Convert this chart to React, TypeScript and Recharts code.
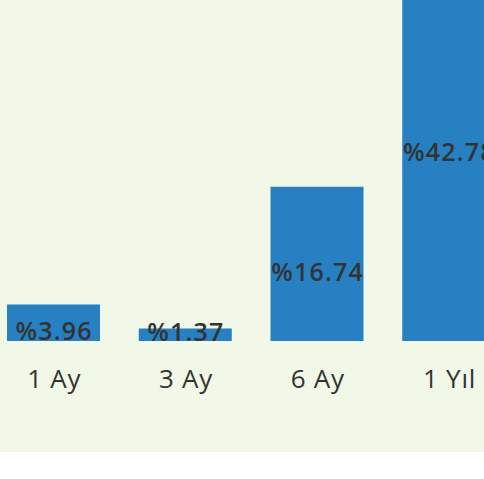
import React from "react";
import { BarChart, Bar, XAxis, YAxis, LabelList } from "recharts";

const categories = ["1 Ay", "3 Ay", "6 Ay", "1 Yıl"];
const returns = [3.96, 1.37, 16.74, 42.78];
const labels = ["%3.96", "%1.37", "%16.74", "%42.78"];

const data = categories.map((c, i) => ({ name: c, value: returns[i], label: labels[i] }));
const maxValue = Math.max(...returns);

const FONT = "'Open Sans', 'Noto Sans', sans-serif";

const BarLabel = (props: any) => {
  const { x, y, width, height, index } = props;
  const bottom = y + height;
  const cy = Math.min(y + height / 2 + 7, bottom - 10);
  return (
    <text
      x={x + width / 2 + 0.6}
      y={cy}
      textAnchor="middle"
      dominantBaseline="central"
      fill="#333333"
      fontFamily={FONT}
      fontWeight={600}
      fontSize={25}
      letterSpacing={1.2}
    >
      {labels[index]}
    </text>
  );
};

const AxisTick = (props: any) => {
  const { x, y, payload } = props;
  return (
    <text
      x={x + 0.4}
      y={y}
      textAnchor="middle"
      fill="#333333"
      fontFamily={FONT}
      fontSize={26}
      letterSpacing={0.8}
      dy={19}
    >
      {payload.value}
    </text>
  );
};

export default function App() {
  return (
    <div
      style={{
        position: "absolute",
        left: 0,
        top: 0,
        width: 484,
        height: 452,
        background: "#f1f8e7",
        overflow: "hidden",
      }}
    >
      <div style={{ position: "absolute", left: -12.3, top: -52.6 }}>
        <BarChart
          width={527}
          height={454}
          data={data}
          margin={{ top: 0, right: 0, bottom: 0, left: 0 }}
        >
          <YAxis hide domain={[0, maxValue]} width={0} />
          <XAxis
            dataKey="name"
            axisLine={false}
            tickLine={false}
            height={60}
            tickMargin={22}
            tick={<AxisTick />}
          />
          <Bar dataKey="value" fill="#2680c2" barSize={93} isAnimationActive={false}>
            <LabelList dataKey="label" content={<BarLabel />} />
          </Bar>
        </BarChart>
      </div>
    </div>
  );
}
